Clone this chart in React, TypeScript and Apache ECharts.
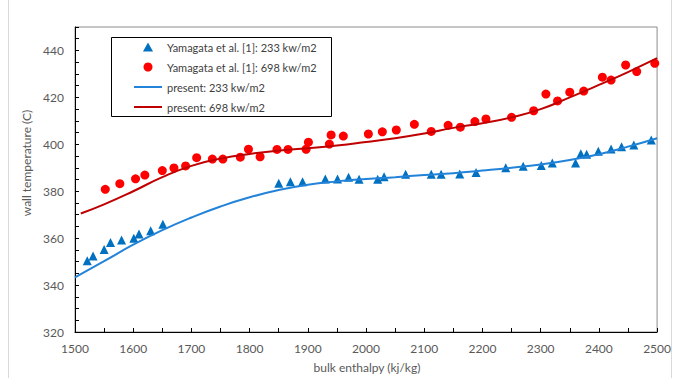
import React, { useEffect, useRef } from "react";
import * as echarts from "echarts";

const xTicks = [1500, 1600, 1700, 1800, 1900, 2000, 2100, 2200, 2300, 2400, 2500];
const yTicks = [320, 340, 360, 380, 400, 420, 440];

const exp233X = [1521, 1531, 1550, 1561, 1580, 1601, 1610, 1630, 1651, 1850, 1870, 1891, 1930, 1951, 1970, 1988, 2020, 2031, 2068, 2112, 2129, 2161, 2189, 2240, 2270, 2301, 2320, 2360, 2369, 2379, 2399, 2421, 2439, 2460, 2490];
const exp233Y = [350.4, 352.4, 355.2, 358.2, 359.2, 360.0, 361.8, 363.2, 365.9, 383.4, 384.0, 384.0, 385.2, 385.2, 386.0, 385.1, 385.1, 386.2, 387.2, 387.2, 387.2, 387.3, 388.0, 390.0, 390.6, 391.0, 392.0, 392.0, 396.0, 395.8, 397.0, 398.0, 399.0, 399.7, 401.8];

const exp698X = [1552, 1577, 1604, 1620, 1650, 1670, 1690, 1709, 1736, 1754, 1784, 1798, 1818, 1847, 1866, 1897, 1901, 1937, 1940, 1961, 2004, 2028, 2052, 2083, 2112, 2141, 2162, 2187, 2206, 2250, 2288, 2309, 2329, 2350, 2374, 2406, 2421, 2446, 2465, 2496];
const exp698Y = [380.8, 383.2, 385.3, 386.9, 388.8, 389.9, 390.8, 394.3, 393.7, 393.7, 394.5, 397.9, 394.7, 397.8, 397.8, 397.9, 400.9, 400.1, 404.0, 403.5, 404.4, 405.3, 406.1, 408.5, 405.5, 408.1, 407.3, 409.7, 410.8, 411.5, 414.3, 421.4, 418.5, 422.2, 422.7, 428.6, 427.4, 433.8, 431.0, 434.5];

const pres233X = [1500, 1550, 1600, 1650, 1700, 1750, 1800, 1850, 1900, 1950, 2000, 2050, 2100, 2150, 2200, 2250, 2300, 2350, 2400, 2450, 2500];
const pres233Y = [343.3, 350.2, 357.2, 363.4, 368.8, 373.5, 377.4, 380.5, 382.8, 384.2, 385.2, 386.0, 386.9, 387.7, 388.8, 390.0, 391.4, 393.3, 395.8, 399.0, 402.6];

const pres698X = [1510, 1550, 1600, 1650, 1700, 1750, 1800, 1850, 1900, 1950, 2000, 2050, 2100, 2150, 2200, 2250, 2300, 2350, 2400, 2450, 2500];
const pres698Y = [370.5, 374.4, 380.0, 386.0, 390.8, 393.9, 395.9, 397.3, 398.3, 399.5, 401.0, 402.6, 404.6, 407.0, 409.0, 411.5, 415.0, 420.0, 425.3, 430.8, 436.7];

const seriesNames = [
  "Yamagata et al. [1]: 233 kw/m2",
  "Yamagata et al. [1]: 698 kw/m2",
  "present: 233 kw/m2",
  "present: 698 kw/m2",
];
const xTitle = "bulk enthalpy (kj/kg)";
const yTitle = "wall temperature (C)";

const zip = (xs: number[], ys: number[]) => xs.map((x, i) => [x, ys[i]]);

const FONT = "Lato, 'Open Sans', sans-serif";

const ICON_TRIANGLE = "path://M5,0 L10,9 L0,9 Z";
const ICON_CIRCLE = "path://M5,0 A5,5 0 1,1 4.99,0 Z";
const ICON_LINE = "path://M0,0 L28,0 L28,2 L0,2 Z";

export default function App() {
  const ref = useRef<HTMLDivElement>(null);
  useEffect(() => {
    if (!ref.current) return;
    const chart = echarts.init(ref.current, null, { renderer: "svg" });
    const axisColor = "#000";
    chart.setOption({
      animation: false,
      backgroundColor: "#fff",
      textStyle: { fontFamily: FONT },
      grid: {
        left: 75,
        top: 27,
        width: 584,
        height: 305,
        show: true,
        borderColor: "#8c8c8c",
        borderWidth: 1,
        backgroundColor: "transparent",
      },
      xAxis: {
        type: "value",
        min: xTicks[0],
        max: xTicks[xTicks.length - 1],
        interval: 100,
        axisLine: { show: true, onZero: false, lineStyle: { color: axisColor, width: 1 } },
        axisTick: { show: true, inside: true, length: 4, lineStyle: { color: axisColor } },
        minorTick: { show: true, splitNumber: 2, length: 4, lineStyle: { color: axisColor } },
        splitLine: { show: false },
        axisLabel: {
          color: "#595959",
          fontSize: 12,
          margin: 10,
          fontFamily: FONT,
          formatter: (v: number) => String(v),
        },
      },
      yAxis: {
        type: "value",
        min: yTicks[0],
        max: 450,
        interval: 20,
        axisLine: { show: true, onZero: false, lineStyle: { color: axisColor, width: 1 } },
        axisTick: { show: true, inside: true, length: 4, lineStyle: { color: axisColor } },
        minorTick: { show: true, splitNumber: 4, length: 4, lineStyle: { color: axisColor } },
        splitLine: { show: false },
        axisLabel: {
          color: "#595959",
          fontSize: 12,
          margin: 11,
          fontFamily: FONT,
          showMaxLabel: false,
          formatter: (v: number) => (yTicks.indexOf(v) >= 0 ? String(v) : ""),
        },
      },
      legend: {
        orient: "vertical",
        left: 134,
        top: 40,
        padding: 0,
        itemWidth: 28,
        itemHeight: 9,
        itemGap: 6,
        z: 20,
        symbolKeepAspect: true,
        data: [
          { name: seriesNames[0], icon: ICON_TRIANGLE },
          { name: seriesNames[1], icon: ICON_CIRCLE },
          { name: seriesNames[2], icon: ICON_LINE },
          { name: seriesNames[3], icon: ICON_LINE },
        ],
        textStyle: { fontSize: 11, lineHeight: 14, color: "#404040", fontFamily: FONT },
      },
      graphic: [
        {
          type: "rect",
          shape: { x: 8.5, y: -5, width: 663, height: 395 },
          style: { fill: "none", stroke: "#d9d9d9", lineWidth: 1 },
          silent: true,
          z: -10,
        },
        {
          type: "rect",
          shape: { x: 111.5, y: 37.5, width: 220, height: 79 },
          style: { fill: "#fff", stroke: "#000", lineWidth: 1 },
          z: 5,
          silent: true,
        },
        {
          type: "text",
          x: 367,
          y: 367,
          style: { text: xTitle, fill: "#595959", fontSize: 12, fontFamily: FONT, align: "center", verticalAlign: "middle" },
        },
        {
          type: "text",
          x: 26,
          y: 163,
          rotation: Math.PI / 2,
          style: { text: yTitle, fill: "#595959", fontSize: 12, fontFamily: FONT, align: "center", verticalAlign: "middle" },
        },
      ],
      series: [
        {
          name: seriesNames[0],
          type: "scatter",
          symbol: "triangle",
          symbolSize: 9,
          itemStyle: { color: "#0070C0", opacity: 1 },
          data: zip(exp233X, exp233Y),
          z: 3,
        },
        {
          name: seriesNames[1],
          type: "scatter",
          symbol: "circle",
          symbolSize: 9,
          itemStyle: { color: "#FF0000", opacity: 1 },
          data: zip(exp698X, exp698Y),
          z: 3,
        },
        {
          name: seriesNames[2],
          type: "line",
          smooth: true,
          showSymbol: false,
          symbol: "none",
          lineStyle: { color: "#2383D8", width: 2 },
          itemStyle: { color: "#2383D8" },
          data: zip(pres233X, pres233Y),
          z: 4,
        },
        {
          name: seriesNames[3],
          type: "line",
          smooth: true,
          showSymbol: false,
          symbol: "none",
          lineStyle: { color: "#C00000", width: 2 },
          itemStyle: { color: "#C00000" },
          data: zip(pres698X, pres698Y),
          z: 4,
        },
      ],
    });
    return () => chart.dispose();
  }, []);
  return (
    <div
      ref={ref}
      style={{ position: "fixed", left: 0, top: 0, width: 674, height: 378 }}
    />
  );
}
